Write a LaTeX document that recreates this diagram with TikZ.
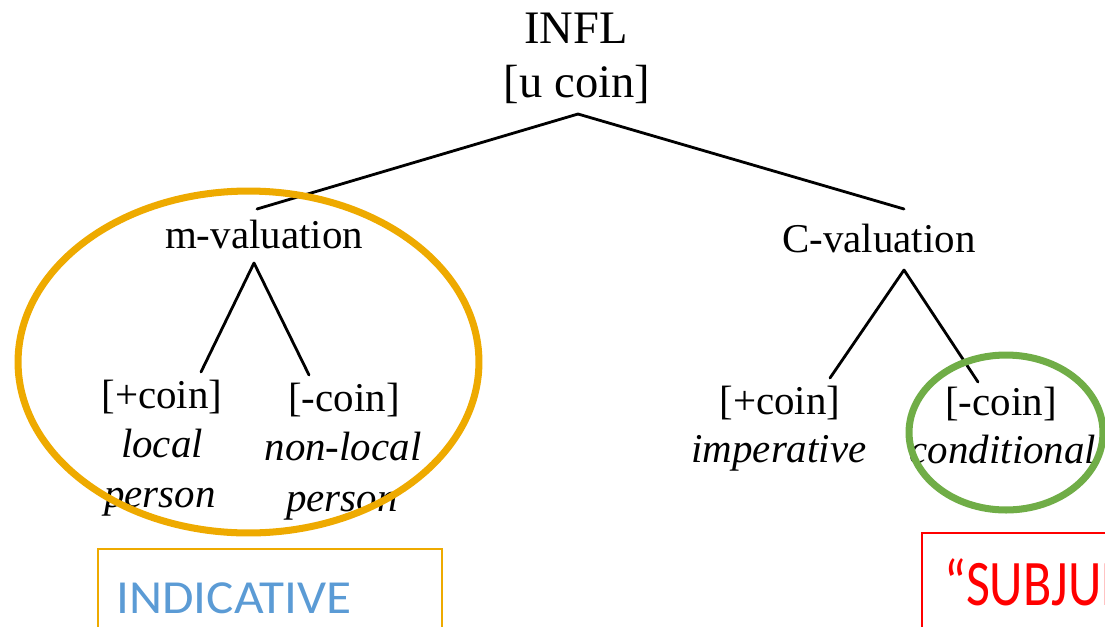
\documentclass[tikz,border=0pt]{standalone}
\usepackage{fontspec}
\setmainfont{Liberation Serif}
\newfontfamily\calibri{Carlito}
\usepackage{tikz}

\definecolor{gold}{RGB}{238,170,0}
\definecolor{leaf}{RGB}{112,173,71}
\definecolor{sky}{RGB}{91,155,213}

\begin{document}
\begin{tikzpicture}[x=0.02cm,y=-0.02cm,
  head/.style={anchor=base,inner sep=0pt,font=\fontsize{26.5}{30}\selectfont},
  cat/.style={anchor=base,inner sep=0pt,font=\fontsize{23.3}{28}\selectfont},
  gloss/.style={cat,font=\fontsize{23.3}{28}\selectfont\itshape},
  branch/.style={line width=1.6pt,line cap=round},
  ring/.style={line width=4pt},
  moodbox/.style={line width=1.1pt},
  moodtext/.style={anchor=base west,inner sep=0pt,font=\calibri,transform shape}]
  \useasboundingbox (0,0) rectangle (1105,626);
  \clip (0,0) rectangle (1105,626);
  % root
  \node[head] (infl) at (576,43) {INFL};
  \node[head] (ucoin) at (577,97) {[u coin]};
  % m-valuation side
  \node[cat] (mval) at (264,248) {m-valuation};
  \node[cat] (mplus) at (162,408) {[+coin]};
  \node[gloss] (mplus1) at (162,457) {local};
  \node[gloss] (mplus2) at (160,507) {person};
  \node[cat] (mminus) at (344,411) {[-coin]};
  \node[gloss] (mminus1) at (343,460) {non-local};
  \node[gloss] (mminus2) at (342,511) {person};
  % C-valuation side
  \node[cat] (cval) at (879,252) {C-valuation};
  \node[cat] (cplus) at (780,414) {[+coin]};
  \node[gloss] (cplus1) at (779,462) {imperative};
  \node[cat] (cminus) at (1001,415) {[-coin]};
  \node[gloss] (cminus1) at (1003,463) {conditional};
  % joints of the tree
  \coordinate (ucoin-foot) at (578,114);
  \coordinate (mval-top) at (257,209);
  \coordinate (cval-top) at (904,209);
  \coordinate (mval-foot) at (254,263);
  \coordinate (mplus-top) at (201,372);
  \coordinate (mminus-top) at (309,375);
  \coordinate (cval-foot) at (904,270);
  \coordinate (cplus-top) at (830,378);
  \coordinate (cminus-top) at (978,382);
  \foreach \a/\b in {ucoin-foot/mval-top,ucoin-foot/cval-top,
                     mval-foot/mplus-top,mval-foot/mminus-top,
                     cval-foot/cplus-top,cval-foot/cminus-top}
    { \draw[branch] (\a) -- (\b); }
  % groupings
  \draw[ring,gold] (248.5,362) ellipse [x radius=4.61cm,y radius=3.42cm];
  \draw[ring,leaf] (1006,432.5) ellipse [x radius=1.94cm,y radius=1.55cm];
  % mood labels
  \draw[moodbox,gold] (98,549) rectangle (442,700);
  \node[moodtext,text=sky,font=\calibri\fontsize{27}{32}\selectfont,xscale=1.08] (ind) at (116,613) {INDICATIVE};
  \draw[moodbox,red] (922,533) rectangle (1200,700);
  \node[moodtext,text=red,font=\calibri\fontsize{37}{44}\selectfont,xscale=0.8] (subj) at (944,605) {“SUBJUNCTIVE”};
\end{tikzpicture}
\end{document}
